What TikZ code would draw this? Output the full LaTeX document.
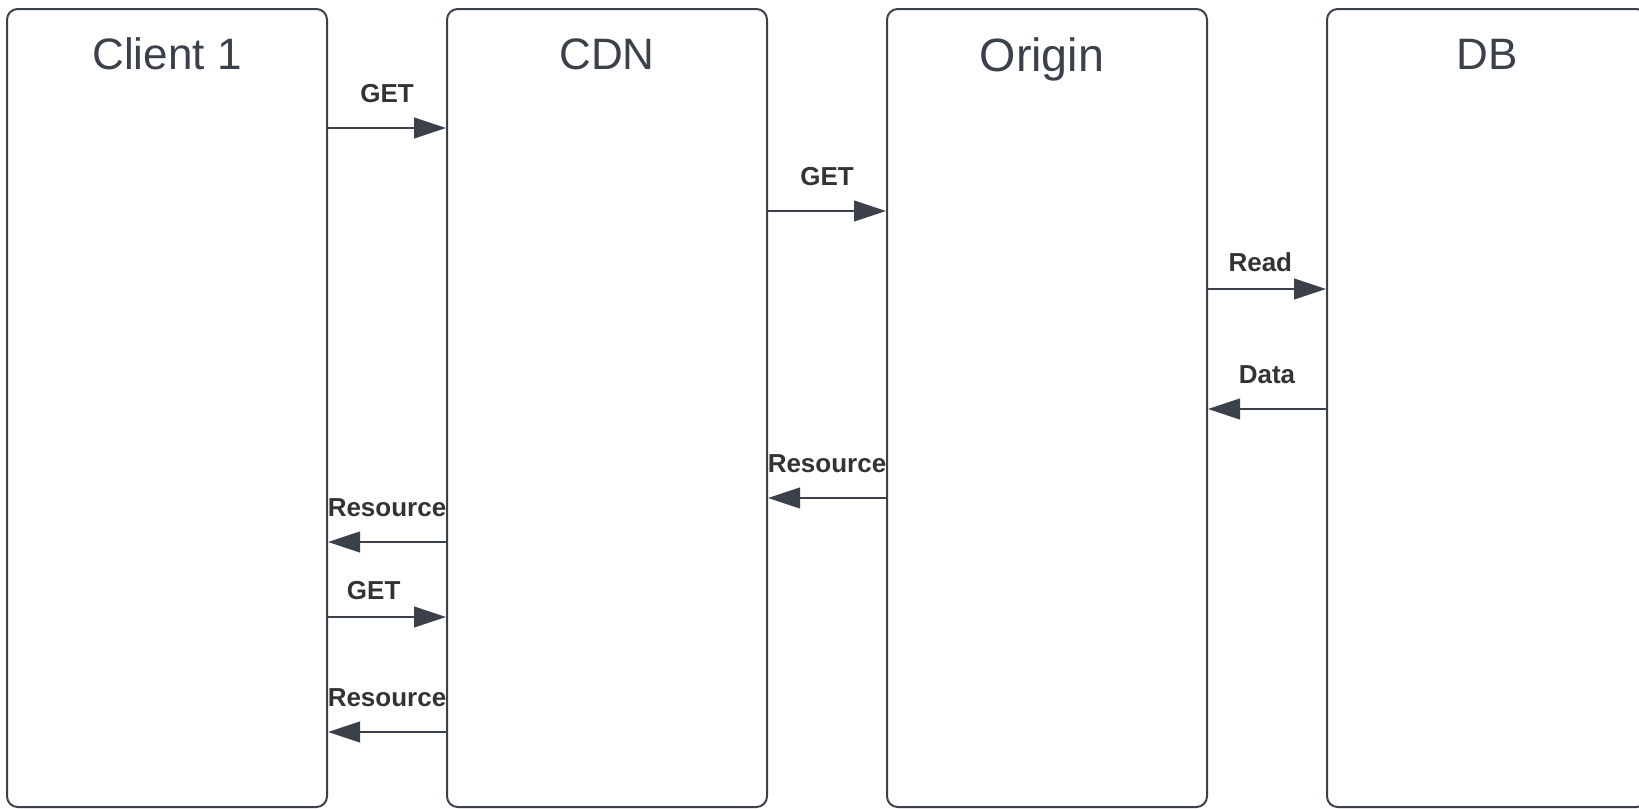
\documentclass[tikz,border=0pt]{standalone}
\usepackage{fontspec}
\setmainfont{Liberation Sans}
\usetikzlibrary{arrows.meta, positioning, calc}

\definecolor{laneline}{HTML}{3A414A}
\definecolor{labeltext}{HTML}{333333}

\begin{document}
\begin{tikzpicture}[
  x=0.75pt, y=-0.75pt,
  lane/.style={draw=laneline, line width=1.5pt, rounded corners=8pt, minimum width=240pt, minimum height=598.5pt, inner sep=0pt},
  title/.style={font=\fontsize{33}{38}\selectfont, text=laneline},
  msg/.style={draw=laneline, line width=1.5pt, -{Triangle[length=24pt, width=15.5pt]}},
  lbl/.style={font=\fontsize{19.5}{22}\selectfont\bfseries, text=labeltext, yshift=26pt}
]
\useasboundingbox (0,0) rectangle (1639,808);
\clip (0,0) rectangle (1639,808);

% Lanes
\node[lane] (client) at (167, 408) {};
\node[lane] (cdn) at (607, 408) {};
\node[lane] (origin) at (1047, 408) {};
\node[lane] (db) at (1487, 408) {};

\node[title] (clienttitle) at (167, 54) {Client 1};
\node[title] (cdntitle) at (607, 54) {CDN};
\node[title, font=\fontsize{35}{40}\selectfont] (origintitle) at (1042, 59) {Origin};
\node[title] (dbtitle) at (1487, 54) {DB};

% Message heights
\coordinate (m1) at (0, 128);
\coordinate (m2) at (0, 211);
\coordinate (m3) at (0, 289);
\coordinate (m4) at (0, 409);
\coordinate (m5) at (0, 498);
\coordinate (m6) at (0, 542);
\coordinate (m7) at (0, 617);
\coordinate (m8) at (0, 732);

% Messages
\draw[msg] (client.east |- m1) -- node[lbl] {GET} (cdn.west |- m1);
\draw[msg] (cdn.east |- m2) -- node[lbl] {GET} (origin.west |- m2);
\draw[msg] (origin.east |- m3) -- node[lbl, xshift=-5pt, yshift=-6pt] {Read} (db.west |- m3);
\draw[msg] (db.west |- m4) -- node[lbl] {Data} (origin.east |- m4);
\draw[msg] (origin.west |- m5) -- node[lbl] {Resource} (cdn.east |- m5);
\draw[msg] (cdn.west |- m6) -- node[lbl] {Resource} (client.east |- m6);
\draw[msg] (client.east |- m7) -- node[lbl, xshift=-10pt, yshift=-6pt] {GET} (cdn.west |- m7);
\draw[msg] (cdn.west |- m8) -- node[lbl] {Resource} (client.east |- m8);

\end{tikzpicture}
\end{document}
